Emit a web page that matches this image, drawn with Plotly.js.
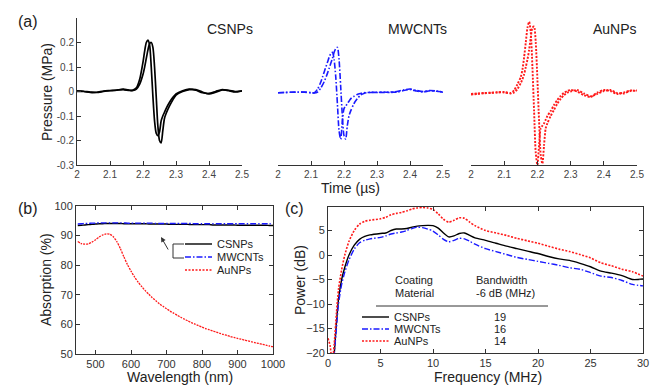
<!DOCTYPE html>
<html><head><meta charset="utf-8">
<script src="https://cdn.plot.ly/plotly-3.0.1.min.js"></script>
<style>html,body{margin:0;padding:0;background:#fff;} #chart{width:658px;height:386px;}</style>
</head><body><div id="chart"></div>
<script>
// ---------- names ----------
const seriesNames = ['CSNPs', 'MWCNTs', 'AuNPs'];
const bandwidths = ['19', '16', '14'];
const colors = ['#000000', '#1a1aff', '#ff1a1a'];
const dashes = ['solid', '6px,2px,1.5px,2px', '2px,1.5px'];

// ---------- (a) waveforms: time (µs), pressure (MPa) ----------
const timeTicks = [2, 2.1, 2.2, 2.3, 2.4, 2.5];
const timeTickText = ['2', '2.1', '2.2', '2.3', '2.4', '2.5'];
const pressureTicks = [-0.3, -0.2, -0.1, 0, 0.1, 0.2];
const pressureTickText = ['-0.3', '-0.2', '-0.1', '0', '0.1', '0.2'];

const timeCS = [2.00, 2.02, 2.04, 2.06, 2.08, 2.10, 2.12, 2.14, 2.16, 2.17, 2.18, 2.19, 2.20, 2.205, 2.21, 2.215, 2.22, 2.225, 2.23, 2.235, 2.24, 2.245, 2.25, 2.255, 2.26, 2.265, 2.27, 2.28, 2.29, 2.30, 2.32, 2.34, 2.36, 2.38, 2.40, 2.42, 2.44, 2.46, 2.48, 2.50];
const csA = [0.000, 0.000, -0.004, -0.003, 0.002, 0.004, 0.006, 0.008, 0.004, 0.006, 0.015, 0.05, 0.12, 0.165, 0.2, 0.21, 0.19, 0.1, -0.02, -0.12, -0.17, -0.18, -0.165, -0.12, -0.1, -0.085, -0.07, -0.045, -0.025, -0.01, 0.003, 0.01, 0.005, -0.005, -0.008, 0.0, 0.008, 0.003, -0.002, 0.003];
const csB = [0.003, 0.001, -0.002, -0.004, 0.0, 0.003, 0.005, 0.01, 0.005, 0.004, 0.01, 0.03, 0.07, 0.1, 0.135, 0.17, 0.195, 0.2, 0.18, 0.1, -0.02, -0.14, -0.2, -0.21, -0.16, -0.11, -0.09, -0.06, -0.035, -0.015, 0.0, 0.008, 0.008, -0.002, -0.01, -0.003, 0.006, 0.005, 0.0, 0.002];

const timeMW = [2.00, 2.02, 2.04, 2.06, 2.08, 2.10, 2.11, 2.12, 2.13, 2.14, 2.15, 2.155, 2.16, 2.165, 2.17, 2.175, 2.18, 2.185, 2.19, 2.195, 2.20, 2.205, 2.21, 2.215, 2.22, 2.23, 2.24, 2.25, 2.26, 2.28, 2.30, 2.32, 2.34, 2.36, 2.38, 2.40, 2.42, 2.44, 2.46, 2.48, 2.50];
const mwA = [-0.005, -0.004, -0.003, -0.002, -0.003, -0.006, -0.005, 0.01, 0.04, 0.08, 0.12, 0.14, 0.155, 0.16, 0.13, 0.06, -0.05, -0.16, -0.195, -0.12, -0.07, -0.06, -0.05, -0.04, -0.03, -0.02, -0.012, -0.008, -0.005, -0.004, -0.003, -0.004, -0.002, -0.003, 0.004, 0.008, 0.002, -0.002, 0.003, 0.001, -0.002];
const mwB = [-0.005, -0.004, -0.003, -0.003, -0.002, -0.004, -0.006, -0.002, 0.015, 0.04, 0.075, 0.095, 0.115, 0.135, 0.16, 0.175, 0.18, 0.13, 0.02, -0.1, -0.18, -0.195, -0.14, -0.1, -0.08, -0.05, -0.03, -0.015, -0.008, -0.003, -0.004, -0.002, -0.004, 0.0, 0.006, 0.01, 0.004, 0.0, 0.004, 0.002, -0.003];

const timeAu = [2.00, 2.02, 2.04, 2.06, 2.08, 2.10, 2.12, 2.13, 2.14, 2.15, 2.155, 2.16, 2.165, 2.17, 2.175, 2.18, 2.185, 2.19, 2.195, 2.20, 2.205, 2.21, 2.215, 2.22, 2.225, 2.23, 2.24, 2.25, 2.26, 2.27, 2.28, 2.29, 2.30, 2.32, 2.34, 2.36, 2.38, 2.40, 2.42, 2.44, 2.46, 2.48, 2.50];
const auA = [-0.01, -0.008, -0.006, -0.005, -0.003, -0.002, -0.006, 0.005, 0.03, 0.06, 0.09, 0.14, 0.2, 0.26, 0.285, 0.24, 0.1, -0.08, -0.25, -0.3, -0.22, -0.15, -0.14, -0.13, -0.115, -0.1, -0.08, -0.055, -0.035, -0.018, -0.006, 0.002, 0.006, 0.0, -0.015, -0.022, -0.005, 0.006, 0.002, -0.01, -0.004, 0.004, 0.002];
const auB = [-0.012, -0.01, -0.007, -0.006, -0.004, -0.004, -0.008, -0.004, 0.01, 0.035, 0.05, 0.07, 0.1, 0.13, 0.17, 0.22, 0.26, 0.265, 0.2, 0.05, -0.12, -0.26, -0.295, -0.22, -0.15, -0.13, -0.1, -0.075, -0.05, -0.03, -0.015, -0.005, 0.0, 0.006, -0.008, -0.02, -0.01, 0.002, 0.006, -0.006, -0.008, 0.002, 0.004];

// ---------- (b) absorption (%) vs wavelength (nm) ----------
const wavelength = [450, 460, 470, 480, 490, 500, 510, 520, 530, 540, 550, 560, 570, 580, 590, 600, 610, 620, 630, 640, 650, 660, 670, 680, 690, 700, 710, 720, 730, 740, 750, 760, 770, 780, 790, 800, 810, 820, 830, 840, 850, 860, 870, 880, 890, 900, 910, 920, 930, 940, 950, 960, 970, 980, 990, 1000];
const absCS = [93.4, 93.5, 93.6, 93.7, 93.8, 93.9, 94.0, 94.0, 94.1, 94.1, 94.1, 94.1, 94.1, 94.0, 94.0, 94.0, 94.0, 94.0, 94.0, 94.0, 93.9, 93.9, 93.9, 93.9, 93.9, 93.9, 93.8, 93.8, 93.8, 93.8, 93.8, 93.8, 93.7, 93.7, 93.7, 93.7, 93.7, 93.7, 93.6, 93.6, 93.6, 93.6, 93.6, 93.6, 93.6, 93.5, 93.5, 93.5, 93.5, 93.5, 93.5, 93.5, 93.5, 93.5, 93.4, 93.4];
const absMW = [93.9, 94.0, 94.1, 94.1, 94.2, 94.2, 94.3, 94.3, 94.3, 94.3, 94.3, 94.3, 94.3, 94.3, 94.2, 94.2, 94.2, 94.2, 94.2, 94.2, 94.2, 94.2, 94.1, 94.1, 94.1, 94.1, 94.1, 94.1, 94.1, 94.1, 94.1, 94.1, 94.1, 94.0, 94.0, 94.0, 94.0, 94.0, 94.0, 94.0, 94.0, 94.0, 94.0, 94.0, 94.0, 94.0, 94.0, 94.0, 94.0, 94.0, 94.0, 94.0, 94.0, 94.0, 94.0, 94.0];
const absAu = [88.0, 87.3, 87.1, 87.2, 87.8, 88.6, 89.5, 90.2, 90.6, 90.5, 89.6, 88.0, 85.6, 82.8, 80.2, 78.0, 76.0, 74.3, 72.8, 71.4, 70.2, 69.0, 68.0, 67.0, 66.1, 65.3, 64.5, 63.8, 63.1, 62.4, 61.8, 61.2, 60.6, 60.1, 59.6, 59.1, 58.6, 58.2, 57.8, 57.4, 57.0, 56.6, 56.3, 55.9, 55.6, 55.3, 55.0, 54.7, 54.4, 54.1, 53.8, 53.6, 53.3, 53.0, 52.7, 52.5];

// ---------- (c) power spectra (dB) vs frequency (MHz) ----------
const freq = [0, 0.2, 0.4, 0.6, 0.8, 1.0, 1.3, 1.6, 2.0, 2.5, 3.0, 3.5, 4, 5, 5.5, 6, 6.5, 7, 7.5, 8, 8.5, 9, 9.5, 10, 10.5, 11, 11.5, 12, 12.5, 13, 13.5, 14, 15, 16, 17, 18, 19, 20, 21, 22, 23, 24, 25, 26, 27, 28, 29, 30];
const powCS = [-25, -25, -24, -20, -14, -9, -5, -2.5, 0, 2, 3.2, 3.8, 4.1, 4.4, 4.5, 5.0, 5.3, 5.3, 5.4, 5.7, 5.9, 6.0, 6.05, 6.0, 5.5, 4.5, 3.7, 3.9, 4.4, 4.5, 4.0, 3.5, 3.0, 2.4, 1.8, 1.3, 0.8, 0.3, -0.3, -0.8, -1.1, -1.7, -2.4, -3.3, -3.7, -4.2, -5.0, -4.9];
const powMW = [-25, -25, -24, -20, -15, -10, -6, -3.5, -1, 1.2, 2.5, 3.0, 3.3, 3.6, 3.9, 4.3, 4.5, 4.7, 5.0, 5.4, 5.7, 5.6, 5.3, 4.9, 4.1, 3.2, 2.7, 3.0, 3.4, 3.3, 2.8, 2.2, 1.3, 0.7, 0.1, -0.5, -0.9, -1.3, -1.7, -2.1, -2.6, -2.9, -3.6, -4.3, -4.6, -5.2, -6.0, -6.3];
const powAu = [-17, -18.5, -22, -18, -12, -7, -3, 0, 2.8, 5.0, 6.3, 6.9, 7.1, 7.4, 7.7, 8.2, 8.5, 8.7, 9.0, 9.4, 9.6, 9.7, 9.6, 9.3, 8.4, 7.3, 6.7, 7.1, 7.6, 7.5, 6.7, 6.0, 5.0, 4.5, 4.0, 3.4, 2.9, 2.4, 1.8, 1.2, 0.7, 0.1, -0.6, -1.6, -2.2, -2.9, -3.4, -4.3];

// ---------- layout helpers ----------
const W = 658, H = 386;
const FONT = 'Liberation Sans, Arial, Helvetica, sans-serif';
const px = x => x / W;
const py = y => 1 - y / H;

function line(x, y, xa, ya, i, w, dash) {
  return {x: x, y: y, xaxis: xa, yaxis: ya, type: 'scatter', mode: 'lines',
    name: seriesNames[i], showlegend: false, hoverinfo: 'skip',
    line: {color: colors[i], dash: dash || dashes[i], width: w, shape: 'spline', smoothing: 0.7}};
}

const traces = [
  line(timeCS, csA, 'x', 'y', 0, 1.7), line(timeCS, csB, 'x', 'y', 0, 1.7),
  line(timeMW, mwA, 'x2', 'y2', 1, 1.6), line(timeMW, mwB, 'x2', 'y2', 1, 1.6),
  line(timeAu, auA, 'x3', 'y3', 2, 1.9), line(timeAu, auB, 'x3', 'y3', 2, 1.9),
  line(wavelength, absCS, 'x4', 'y4', 0, 1.4), line(wavelength, absMW, 'x4', 'y4', 1, 1.4),
  line(wavelength, absAu, 'x4', 'y4', 2, 1.3, '2px,1px'),
  line(freq, powCS, 'x5', 'y5', 0, 1.4), line(freq, powMW, 'x5', 'y5', 1, 1.4),
  line(freq, powAu, 'x5', 'y5', 2, 1.6)
];

const ax = {showline: true, linecolor: '#333', linewidth: 1, ticks: 'inside', ticklen: 4,
  tickcolor: '#333', tickwidth: 1, zeroline: false, showgrid: false, fixedrange: true,
  tickfont: {family: FONT, size: 10, color: '#444'}};
const ax11 = Object.assign({}, ax, {tickfont: {family: FONT, size: 11, color: '#333'}});

const yA = [py(165), py(18)];
const layout = {
  width: W, height: H, margin: {l: 0, r: 0, t: 0, b: 0},
  paper_bgcolor: '#fff', plot_bgcolor: 'rgba(0,0,0,0)', showlegend: false,
  font: {family: FONT, color: '#222'},
  xaxis: Object.assign({}, ax, {domain: [px(77), px(242)], range: [2, 2.5], tickvals: timeTicks, ticktext: timeTickText, anchor: 'y'}),
  yaxis: Object.assign({}, ax, {domain: yA, range: [-0.3, 0.3], tickvals: pressureTicks, ticktext: pressureTickText, anchor: 'x'}),
  xaxis2: Object.assign({}, ax, {domain: [px(278), px(443)], range: [2, 2.5], tickvals: timeTicks, ticktext: timeTickText, anchor: 'y2'}),
  yaxis2: {domain: yA, range: [-0.3, 0.3], visible: false, anchor: 'x2', fixedrange: true},
  xaxis3: Object.assign({}, ax, {domain: [px(471), px(637)], range: [2, 2.5], tickvals: timeTicks, ticktext: timeTickText, anchor: 'y3'}),
  yaxis3: {domain: yA, range: [-0.3, 0.3], visible: false, anchor: 'x3', fixedrange: true},
  xaxis4: Object.assign({}, ax11, {domain: [px(76), px(273)], range: [445, 1000], tickvals: [500, 600, 700, 800, 900, 1000], mirror: 'ticks', anchor: 'y4'}),
  yaxis4: Object.assign({}, ax11, {domain: [py(354), py(206)], range: [50, 100], tickvals: [50, 60, 70, 80, 90, 100], mirror: 'ticks', anchor: 'x4'}),
  xaxis5: Object.assign({}, ax11, {domain: [px(328), px(643)], range: [0, 30], tickvals: [0, 5, 10, 15, 20, 25, 30], mirror: 'ticks', anchor: 'y5'}),
  yaxis5: Object.assign({}, ax11, {domain: [py(353), py(207)], range: [-20, 9.8], tickvals: [-20, -15, -10, -5, 0, 5], mirror: 'ticks', anchor: 'x5'}),
  annotations: [],
  shapes: []
};

function txt(text, x, y, size, opts) {
  layout.annotations.push(Object.assign({text: text, x: px(x), y: py(y), xref: 'paper', yref: 'paper',
    showarrow: false, xanchor: 'center', yanchor: 'middle',
    font: {family: FONT, size: size, color: '#222'}}, opts || {}));
}
// panel labels
txt('(a)', 28, 22, 16);
txt('(b)', 28, 208, 16);
txt('(c)', 294, 208, 16);
// panel (a) names
txt(seriesNames[0], 230, 29, 14);
txt(seriesNames[1], 417, 29, 14);
txt(seriesNames[2], 615, 29, 14);
// axis titles
txt('Pressure (MPa)', 47, 92, 14, {textangle: -90});
txt('Time (µs)', 350, 188, 14);
txt('Absorption (%)', 46, 280, 14, {textangle: -90});
txt('Wavelength (nm)', 180, 377, 14);
txt('Power (dB)', 300, 280, 14, {textangle: -90});
txt('Frequency (MHz)', 488, 377, 14);

// legend (b)
const legB = [244, 257, 270];
seriesNames.forEach((n, i) => {
  layout.shapes.push({type: 'line', xref: 'paper', yref: 'paper', x0: px(185), x1: px(212), y0: py(legB[i]), y1: py(legB[i]),
    line: {color: colors[i], dash: dashes[i], width: 1.4}});
  txt(n, 215, legB[i], 11, {xanchor: 'left'});
});
layout.shapes.push({type: 'path', xref: 'paper', yref: 'paper',
  path: `M ${px(184)} ${py(244)} L ${px(173)} ${py(244)} L ${px(173)} ${py(258)} L ${px(184)} ${py(258)}`,
  line: {color: '#333', width: 1}});
layout.annotations.push({x: px(161), y: py(237), xref: 'paper', yref: 'paper', text: '', showarrow: true,
  ax: 8, ay: 14, arrowhead: 2, arrowsize: 1, arrowwidth: 1, arrowcolor: '#333', standoff: 0});

// legend (c) table
txt('Coating', 393, 280, 11, {xanchor: 'left'});
txt('Material', 393, 293, 11, {xanchor: 'left'});
txt('Bandwidth', 474, 280, 11, {xanchor: 'left'});
txt('-6 dB (MHz)', 474, 293, 11, {xanchor: 'left'});
layout.shapes.push({type: 'line', xref: 'paper', yref: 'paper', x0: px(376), x1: px(548), y0: py(306), y1: py(306),
  line: {color: '#333', width: 1}});
const legC = [317, 329, 341];
seriesNames.forEach((n, i) => {
  layout.shapes.push({type: 'line', xref: 'paper', yref: 'paper', x0: px(362), x1: px(389), y0: py(legC[i]), y1: py(legC[i]),
    line: {color: colors[i], dash: dashes[i], width: 1.4}});
  txt(n, 392, legC[i], 11, {xanchor: 'left'});
  txt(bandwidths[i], 500, legC[i], 11);
});

Plotly.newPlot('chart', traces, layout, {staticPlot: true, displayModeBar: false});
</script>
</body></html>
